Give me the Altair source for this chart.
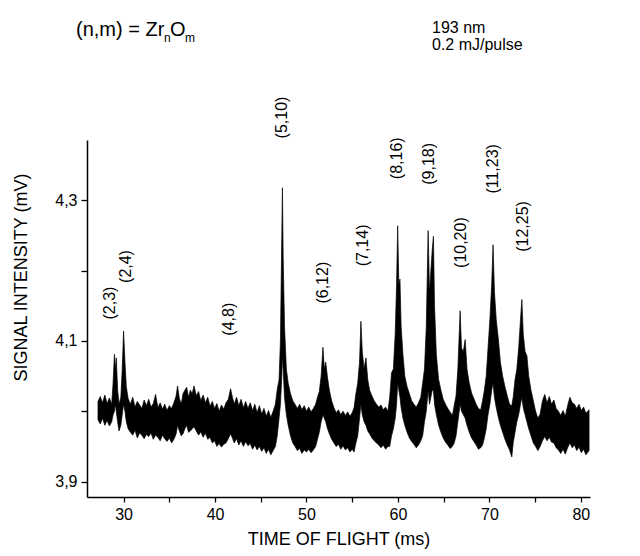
import altair as alt
import pandas as pd

# time of flight (ms), lower / upper envelope of the noisy trace (mV)
t = [27.2, 27.45, 27.7, 27.95, 28.2, 28.45, 28.7, 28.85, 29.0, 29.1, 29.2, 29.35, 29.5, 29.7, 29.85,
     30.0, 30.15, 30.3, 30.5, 30.75, 31.0, 31.25, 31.5, 31.75, 32.0, 32.25, 32.5, 32.75, 33.0, 33.25,
     33.5, 33.75, 34.0, 34.25, 34.5, 34.75, 35.0, 35.25, 35.5, 35.75, 35.9, 36.1, 36.3, 36.5, 36.7,
     36.9, 37.1, 37.3, 37.5, 37.7, 37.95, 38.2, 38.45, 38.7, 38.95, 39.2, 39.45, 39.7, 39.95, 40.2,
     40.45, 40.7, 40.95, 41.2, 41.45, 41.7, 41.9, 42.1, 42.35, 42.6, 42.85, 43.1, 43.35, 43.6, 43.85,
     44.1, 44.35, 44.6, 44.85, 45.1, 45.35, 45.6, 45.85, 46.1, 46.35, 46.6, 46.8, 47.0, 47.15, 47.3,
     47.37, 47.45, 47.6, 47.8, 48.0, 48.25, 48.5, 48.75, 49.0, 49.25, 49.5, 49.75, 50.0, 50.25, 50.5,
     50.75, 51.0, 51.2, 51.4, 51.6, 51.8, 51.95, 52.1, 52.3, 52.5, 52.75, 53.0, 53.25, 53.5, 53.75,
     54.0, 54.25, 54.5, 54.75, 55.0, 55.2, 55.4, 55.6, 55.8, 55.95, 56.1, 56.3, 56.5, 56.7, 56.9,
     57.15, 57.4, 57.65, 57.9, 58.15, 58.4, 58.65, 58.9, 59.1, 59.3, 59.5, 59.7, 59.85, 59.97, 60.1,
     60.22, 60.35, 60.55, 60.75, 61.0, 61.25, 61.5, 61.75, 62.0, 62.25, 62.5, 62.7, 62.9, 63.1, 63.3,
     63.45, 63.6, 63.75, 63.88, 64.0, 64.2, 64.45, 64.7, 64.95, 65.2, 65.45, 65.7, 65.95, 66.15, 66.35,
     66.55, 66.7, 66.8, 66.95, 67.15, 67.35, 67.55, 67.8, 68.05, 68.3, 68.55, 68.8, 69.05, 69.25, 69.45,
     69.65, 69.85, 70.05, 70.25, 70.4, 70.55, 70.75, 71.0, 71.2, 71.45, 71.7, 71.95, 72.2, 72.45, 72.6,
     72.8, 73.0, 73.2, 73.4, 73.55, 73.7, 73.9, 74.1, 74.3, 74.55, 74.8, 75.05, 75.3, 75.55, 75.8,
     76.05, 76.3, 76.55, 76.8, 77.05, 77.3, 77.55, 77.8, 78.05, 78.3, 78.55, 78.8, 79.05, 79.3, 79.55,
     79.8, 80.05, 80.3, 80.55, 80.9]

lo = [3.988, 3.982, 3.990, 3.980, 3.987, 3.979, 3.985, 3.995, 4.000, 4.010, 4.000, 3.985, 3.972, 3.980, 3.995,
      4.010, 4.000, 3.985, 3.975, 3.970, 3.966, 3.973, 3.962, 3.969, 3.966, 3.961, 3.967, 3.964, 3.969, 3.960,
      3.966, 3.963, 3.958, 3.966, 3.961, 3.957, 3.962, 3.955, 3.960, 3.968, 3.980, 3.972, 3.965, 3.968, 3.975,
      3.980, 3.970, 3.972, 3.975, 3.978, 3.972, 3.966, 3.971, 3.963, 3.969, 3.960, 3.963, 3.955, 3.958, 3.950,
      3.954, 3.949, 3.953, 3.955, 3.961, 3.968, 3.962, 3.955, 3.961, 3.952, 3.958, 3.950, 3.957, 3.951, 3.954,
      3.946, 3.952, 3.945, 3.950, 3.943, 3.948, 3.940, 3.946, 3.938, 3.944, 3.950, 3.965, 3.990, 4.010, 4.050,
      4.080, 4.060, 4.020, 3.995, 3.980, 3.965, 3.955, 3.950, 3.944, 3.947, 3.940, 3.945, 3.942, 3.946, 3.941,
      3.945, 3.950, 3.960, 3.970, 3.985, 3.995, 3.990, 3.985, 3.975, 3.968, 3.960, 3.955, 3.950, 3.953, 3.946,
      3.951, 3.945, 3.948, 3.942, 3.946, 3.942, 3.955, 3.965, 3.990, 4.010, 3.995, 3.985, 3.980, 3.972, 3.968,
      3.962, 3.958, 3.955, 3.952, 3.948, 3.952, 3.946, 3.950, 3.950, 3.965, 3.975, 3.990, 4.010, 4.040, 4.030,
      4.020, 4.005, 3.990, 3.980, 3.970, 3.962, 3.957, 3.953, 3.948, 3.952, 3.958, 3.965, 3.985, 4.000, 4.030,
      4.010, 4.020, 4.030, 4.030, 4.010, 3.995, 3.980, 3.970, 3.962, 3.956, 3.952, 3.947, 3.950, 3.955, 3.965,
      3.985, 4.000, 4.010, 4.000, 3.995, 3.990, 3.980, 3.970, 3.962, 3.957, 3.952, 3.946, 3.948, 3.952, 3.962,
      3.975, 3.995, 4.010, 4.030, 4.040, 4.020, 4.005, 3.990, 3.980, 3.970, 3.960, 3.952, 3.945, 3.935, 3.955,
      3.970, 3.985, 3.995, 4.010, 4.020, 4.005, 3.995, 3.985, 3.975, 3.965, 3.955, 3.950, 3.944, 3.950, 3.958,
      3.964, 3.958, 3.963, 3.956, 3.955, 3.948, 3.945, 3.940, 3.946, 3.939, 3.948, 3.955, 3.948, 3.952, 3.944,
      3.949, 3.941, 3.946, 3.938, 3.944]

hi = [4.014, 4.021, 4.012, 4.023, 4.011, 4.019, 4.010, 4.040, 4.081, 4.060, 4.076, 4.030, 4.010, 4.020, 4.060,
      4.114, 4.070, 4.035, 4.018, 4.010, 4.020, 4.006, 4.014, 4.009, 4.004, 4.016, 4.008, 4.017, 4.006, 4.011,
      4.024, 4.005, 4.012, 4.003, 4.010, 4.001, 4.008, 4.004, 4.012, 4.022, 4.036, 4.018, 4.010, 4.025, 4.030,
      4.034, 4.020, 4.030, 4.025, 4.036, 4.022, 4.028, 4.015, 4.023, 4.012, 4.020, 4.007, 4.014, 4.004, 4.011,
      4.000, 4.009, 4.003, 4.012, 4.017, 4.032, 4.020, 4.010, 4.020, 4.008, 4.017, 4.005, 4.014, 4.004, 4.012,
      4.001, 4.010, 3.998, 4.008, 3.996, 4.004, 3.993, 4.001, 3.991, 4.000, 4.010, 4.031, 4.045, 4.100, 4.250,
      4.318, 4.220, 4.120, 4.060, 4.040, 4.025, 4.015, 4.010, 4.004, 4.010, 4.002, 4.008, 4.000, 4.006, 3.999,
      4.004, 4.010, 4.020, 4.028, 4.050, 4.091, 4.060, 4.070, 4.048, 4.030, 4.015, 4.005, 3.998, 4.002, 3.995,
      4.000, 3.994, 3.999, 3.993, 3.998, 4.005, 4.025, 4.040, 4.070, 4.128, 4.085, 4.060, 4.076, 4.045, 4.030,
      4.022, 4.015, 4.010, 4.006, 4.009, 4.002, 4.006, 4.000, 4.020, 4.055, 4.060, 4.110, 4.180, 4.264, 4.180,
      4.188, 4.120, 4.080, 4.050, 4.035, 4.025, 4.015, 4.010, 4.006, 4.012, 4.020, 4.040, 4.060, 4.120, 4.257,
      4.170, 4.200, 4.230, 4.249, 4.150, 4.080, 4.045, 4.030, 4.017, 4.010, 4.004, 3.999, 3.994, 4.008, 4.022,
      4.060, 4.110, 4.143, 4.090, 4.085, 4.102, 4.060, 4.040, 4.026, 4.018, 4.010, 4.004, 4.002, 4.015, 4.030,
      4.050, 4.090, 4.130, 4.180, 4.237, 4.170, 4.130, 4.100, 4.070, 4.050, 4.035, 4.022, 4.010, 4.008, 4.020,
      4.045, 4.060, 4.090, 4.130, 4.159, 4.110, 4.085, 4.079, 4.050, 4.030, 4.015, 4.000, 3.990, 3.996, 4.015,
      4.024, 4.012, 4.021, 4.010, 4.016, 4.004, 4.000, 3.994, 4.001, 3.993, 4.008, 4.020, 4.012, 4.010, 4.004,
      4.010, 4.001, 4.006, 3.997, 4.002]

# peak labels (n,m) and their positions
peak_labels = ["(2,3)", "(2,4)", "(4,8)", "(5,10)", "(6,12)", "(7,14)", "(8,16)", "(9,18)",
               "(10,20)", "(11,23)", "(12,25)"]
peak_x = [28.47, 30.3, 41.58, 47.33, 51.78, 56.17, 59.87, 63.37, 66.9, 70.44, 73.64]
peak_y = [4.154, 4.206, 4.131, 4.418, 4.183, 4.236, 4.360, 4.352, 4.240, 4.345, 4.263]

x_ticks = [30, 35, 40, 45, 50, 55, 60, 65, 70, 75, 80]
y_ticks = [3.9, 4.0, 4.1, 4.2, 4.3]

FONT = "Liberation Sans"

trace = pd.DataFrame({"t": t, "lo": lo, "hi": hi})
labels = pd.DataFrame({"label": peak_labels, "x": peak_x, "y": peak_y})

xscale = alt.Scale(domain=[26, 81], nice=False, zero=False)
yscale = alt.Scale(domain=[3.878, 4.386], nice=False, zero=False)

area = alt.Chart(trace).mark_area(
    color="black", stroke="black", strokeWidth=0.7, interpolate="linear"
).encode(
    x=alt.X("t:Q", scale=xscale, axis=alt.Axis(
        values=x_ticks, title="TIME OF FLIGHT (ms)",
        labelExpr="datum.value % 10 == 0 ? datum.label : ''",
        tickSize=5, labelPadding=4, titlePadding=8)),
    y=alt.Y("lo:Q", scale=yscale, axis=alt.Axis(
        values=y_ticks, title="SIGNAL INTENSITY (mV)",
        labelExpr="(round(datum.value*10) % 2 == 1) ? replace(format(datum.value, '.1f'), '.', ',') : ''",
        tickSize=6, labelPadding=4, titleX=-66, titleY=137, titleBaseline="middle")),
    y2="hi:Q",
)

peak_text = alt.Chart(labels).mark_text(
    angle=270, font=FONT, fontSize=16, color="black", align="center", baseline="middle"
).encode(
    x=alt.X("x:Q", scale=xscale),
    y=alt.Y("y:Q", scale=yscale),
    text="label:N",
)

def note(txt, x, y, size):
    return alt.Chart(pd.DataFrame({"s": [txt]})).mark_text(
        font=FONT, fontSize=size, color="black", align="left", baseline="alphabetic"
    ).encode(x=alt.value(x), y=alt.value(y), text="s:N")

notes = [
    note("(n,m) = Zr", -11, -104, 20),
    note("n", 77, -98, 12),
    note("O", 83, -104, 20),
    note("m", 98, -98, 12),
    note("193 nm", 345, -107, 16),
    note("0.2 mJ/pulse", 345, -90, 16),
]

chart = alt.layer(area, peak_text, *notes).properties(
    width=503, height=357,
    autosize=alt.AutoSizeParams(type="none"),
    padding={"left": 79, "top": 132, "right": 42, "bottom": 58},
).configure_view(stroke=None).configure_axis(
    grid=False, domainColor="black", domainWidth=1.5, tickColor="black", tickWidth=1.3,
    labelColor="black", titleColor="black", labelFont=FONT, titleFont=FONT,
    labelFontSize=16, titleFontSize=18, titleFontWeight="normal",
)

chart.save("out.html", embed_options={"renderer": "svg", "actions": False})
